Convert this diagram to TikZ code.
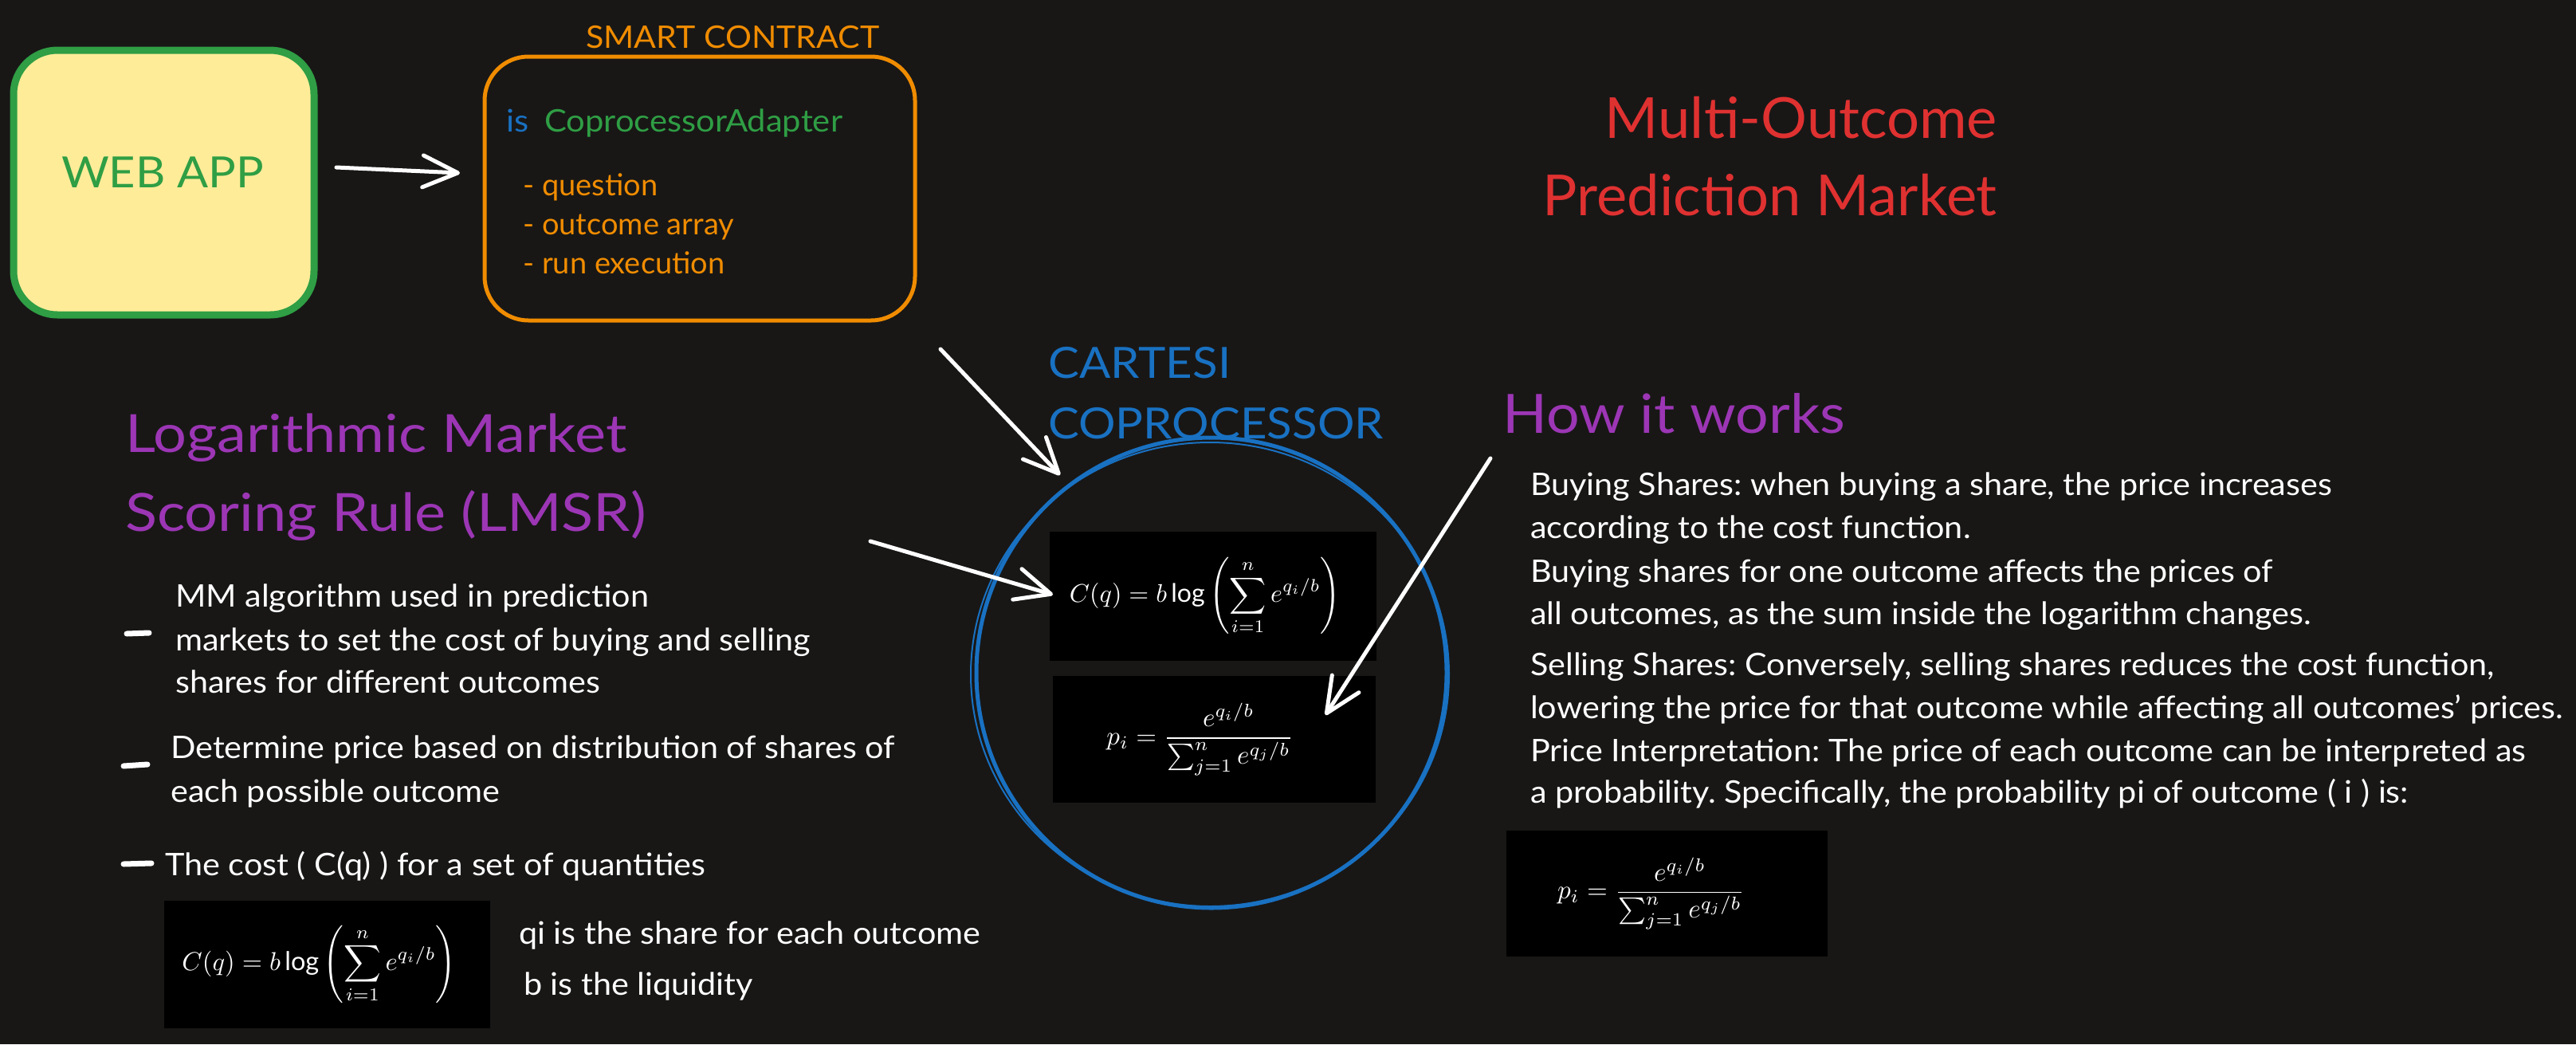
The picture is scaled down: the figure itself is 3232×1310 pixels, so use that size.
\documentclass[tikz,border=0pt]{standalone}
\usepackage{fontspec}
\setmainfont{Lato}
\usepackage{graphicx}
\usetikzlibrary{arrows.meta}
\definecolor{bg}{HTML}{181716}
\definecolor{exgreen}{HTML}{2F9E44}
\definecolor{exyellow}{HTML}{FFEC99}
\definecolor{exorange}{HTML}{F08C00}
\definecolor{exblue}{HTML}{1971C2}
\definecolor{exred}{HTML}{E03131}
\definecolor{expurple}{HTML}{9C36B5}
\newcommand{\fsz}[3]{\fontsize{#1}{#2}\selectfont\addfontfeature{FakeStretch=#3}\frenchspacing}
\tikzset{
  txt/.style={inner sep=0pt, text=white, font=\fsz{39}{47}{1.06}, anchor=base west},
  orangetxt/.style={txt, text=exorange, font=\fsz{38}{46}{1.0}},
  heading/.style={inner sep=0pt, text=expurple, font=\fsz{66}{80}{1.12}, anchor=base west},
  harrow/.style={draw=white, line width=5pt, line cap=round,
    -{Straight Barb[length=44pt,width=40pt,line width=5pt,round]}},
  fbox/.style={fill=black, inner sep=0pt, text=white},
  dashmark/.style={draw=white, line width=7pt, line cap=round},
}
\begin{document}
\frenchspacing
\begin{tikzpicture}[x=1pt,y=-1pt]
\fill[bg] (0,0) rectangle (3232,1310);
\useasboundingbox (0,0) rectangle (3232,1310);

% WEB APP
\node[draw=exgreen, fill=exyellow, line width=9pt, rounded corners=55pt,
      minimum width=377pt, minimum height=332pt, inner sep=0pt] (webapp) at (205.5,229) {};
\node[inner sep=0pt, text=exgreen, font=\fsz{54}{64}{1.07}] (webapplabel) at (204,216) {WEB APP};

% SMART CONTRACT
\node[draw=exorange, line width=5pt, rounded corners=55pt,
      minimum width=540pt, minimum height=331pt, inner sep=0pt] (sc) at (878,236.5) {};
\node[orangetxt, font=\fsz{39}{47}{1.055}] (sctitle) at (735,60) {SMART CONTRACT};
\node[txt, text=exblue, font=\fsz{39}{47}{1.07}] (is) at (635,165) {is};
\node[txt, text=exgreen, font=\fsz{39}{47}{1.07}] (adapter) at (683,165) {CoprocessorAdapter};
\node[orangetxt] (q1) at (656,245) {- question};
\node[orangetxt] (q2) at (656,294) {- outcome array};
\node[orangetxt] (q3) at (656,343) {- run execution};

\coordinate (a0s) at (422,210);
\coordinate (a0e) at (577,217);
\draw[harrow] (a0s) -- (a0e);

% Title
\node[inner sep=0pt, text=exred, font=\fsz{71}{85}{1.02}, anchor=base east] (t1) at (2506,173) {Multi-Outcome};
\node[inner sep=0pt, text=exred, font=\fsz{71}{85}{1.02}, anchor=base east] (t2) at (2506,270) {Prediction Market};

% CARTESI
\node[inner sep=0pt, text=exblue, font=\fsz{54}{64}{1.077}, anchor=base west] (c1) at (1315,474) {CARTESI};
\node[inner sep=0pt, text=exblue, font=\fsz{54}{64}{1.077}, anchor=base west] (c2) at (1315,550) {COPROCESSOR};
\node[draw=exblue, line width=5pt, circle, minimum size=590pt, inner sep=0pt] (cpu) at (1520,844) {};
\draw[exblue, line width=2pt] (1518,846) ellipse [x radius=300pt, y radius=291pt];

\node[fbox, minimum width=410pt, minimum height=162pt] (f1) at (1522,748)
  {\resizebox{340pt}{!}{$\displaystyle C(q)=b\log\left(\sum_{i=1}^{n}e^{q_i/b}\right)$}\hspace*{20pt}};
\node[fbox, minimum width=405pt, minimum height=159pt] (f2) at (1523.5,927.5)
  {\resizebox{234pt}{!}{$\displaystyle p_i=\frac{e^{q_i/b}}{\sum_{j=1}^{n}e^{q_j/b}}$}\hspace*{36pt}};

\coordinate (a1s) at (1180,438);
\coordinate (a1e) at (1330,596);
\draw[harrow] (a1s) -- (a1e);
\coordinate (a2s) at (1092,679);
\coordinate (a2e) at (1321,746);
\draw[harrow] (a2s) -- (a2e);
\coordinate (a3s) at (1870,575);
\coordinate (a3e) at (1663,897);
\draw[harrow] (a3s) -- (a3e);

% LMSR
\node[heading] (h1) at (157,567) {Logarithmic Market};
\node[heading] (h2) at (157,666) {Scoring Rule (LMSR)};

\coordinate (d1s) at (159,795); \coordinate (d1e) at (187,794);
\draw[dashmark] (d1s) -- (d1e);
\node[txt] (l1) at (220,761) {MM algorithm used in prediction};
\node[txt] (l2) at (220,816) {markets to set the cost of buying and selling};
\node[txt] (l3) at (220,869) {shares for different outcomes};

\coordinate (d2s) at (155,961); \coordinate (d2e) at (185,959);
\draw[dashmark] (d2s) -- (d2e);
\node[txt] (l4) at (214,951) {Determine price based on distribution of shares of};
\node[txt] (l5) at (214,1006) {each possible outcome};

\coordinate (d3s) at (155,1084); \coordinate (d3e) at (190,1083);
\draw[dashmark] (d3s) -- (d3e);
\node[txt] (l6) at (207,1098) {The cost ( C(q) ) for a set of quantities};

\node[fbox, minimum width=409pt, minimum height=160pt] (f3) at (410.5,1210)
  {\resizebox{344pt}{!}{$\displaystyle C(q)=b\log\left(\sum_{i=1}^{n}e^{q_i/b}\right)$}\hspace*{20pt}};
\node[txt] (l7) at (651,1184) {qi is the share for each outcome};
\node[txt] (l8) at (657,1248) {b is the liquidity};

% How it works
\node[heading, font=\fsz{68}{80}{1.08}] (h3) at (1885,543) {How it works};
\node[txt] (r1) at (1920,621) {Buying Shares: when buying a share, the price increases};
\node[txt] (r2) at (1920,675) {according to the cost function.};
\node[txt] (r3) at (1920,730) {Buying shares for one outcome affects the prices of};
\node[txt] (r4) at (1920,783) {all outcomes, as the sum inside the logarithm changes.};
\node[txt] (r5) at (1920,847) {Selling Shares: Conversely, selling shares reduces the cost function,};
\node[txt] (r6) at (1920,901) {lowering the price for that outcome while affecting all outcomes' prices.};
\node[txt] (r7) at (1920,955) {Price Interpretation: The price of each outcome can be interpreted as};
\node[txt] (r8) at (1920,1007) {a probability. Specifically, the probability pi of outcome ( i ) is:};

\node[fbox, minimum width=403pt, minimum height=158pt] (f4) at (2091.5,1121)
  {\resizebox{235pt}{!}{$\displaystyle p_i=\frac{e^{q_i/b}}{\sum_{j=1}^{n}e^{q_j/b}}$}\hspace*{40pt}};
\end{tikzpicture}
\end{document}
